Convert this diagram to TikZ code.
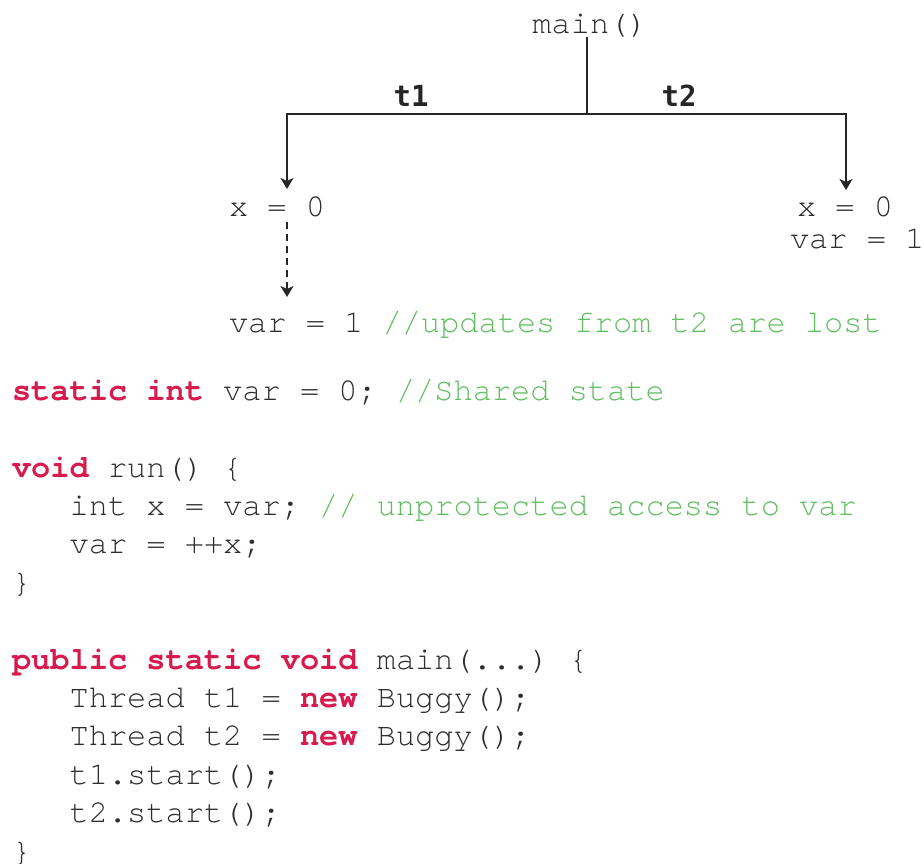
\documentclass[tikz,border=0pt]{standalone}
\usepackage{fontspec}
\setmonofont{TeX Gyre Cursor}
\newfontfamily\labelfont{DejaVu Sans Mono}
\usetikzlibrary{arrows.meta}
\definecolor{codetext}{RGB}{45,45,45}
\definecolor{keyword}{RGB}{214,28,78}
\definecolor{comment}{RGB}{96,190,96}
\newcommand{\kw}[1]{{\bfseries\color{keyword}#1}}
\newcommand{\cm}[1]{{\color{comment}#1}}
\tikzset{
  code/.style={anchor=base west, inner sep=0pt, outer sep=0pt,
    font=\ttfamily\fontsize{16}{16}\selectfont, text=codetext},
  thread/.style={anchor=base, inner sep=0pt,
    font=\labelfont\bfseries\fontsize{14.5}{14.5}\selectfont, text=black!85},
  flow/.style={line width=1.25pt, draw=black!85},
  tipped/.style={-{Stealth[length=5.5pt,width=6.5pt,inset=1.5pt]}},
  lost/.style={line width=1pt, draw=black!85, dash pattern=on 3.5pt off 2.5pt}
}
\begin{document}
\begin{tikzpicture}[x=0.5pt,y=-0.5pt]
  \useasboundingbox (0,0) rectangle (924,863);

  % thread fork
  \node[code, anchor=base] (main) at (590,33) {main()};
  \coordinate (fork) at (587,114);
  \coordinate (forkL) at (287,114);
  \coordinate (forkR) at (846,114);
  \coordinate (tipL) at (287,189);
  \coordinate (tipR) at (846,190);
  \node[thread] (t1) at (411,106) {t1};
  \node[thread] (t2) at (679,106) {t2};

  % per-thread values
  \node[code] (xL) at (229,216) {x = 0};
  \node[code] (xR) at (797,216) {x = 0};
  \node[code] (varR) at (790,248) {var = 1};
  \coordinate (dashTop) at (287,222);
  \coordinate (dashTip) at (287,297);
  \node[code] (varL) at (229,332) {var = 1 \cm{//updates from t2 are lost}};

  \draw[flow] (main.south -| fork) -- (fork);
  \draw[flow, tipped] (fork) -- (forkL) -- (tipL);
  \draw[flow, tipped] (fork) -- (forkR) -- (tipR);
  \draw[lost, tipped] (dashTop) -- (dashTip);

  % source code
  \node[code] (l1) at (12,400) {\kw{static int} var = 0; \cm{//Shared state}};
  \node[code] (l2) at (12,477) {\kw{void} run() \{};
  \node[code] (l3) at (69.6,515) {int x = var; \cm{// unprotected access to var}};
  \node[code] (l4) at (69.6,553.5) {var = ++x;};
  \node[code] (l5) at (12,592) {\}};
  \node[code] (l6) at (12,669) {\kw{public static void} main(...) \{};
  \node[code] (l7) at (69.6,707) {Thread t1 = \kw{new} Buggy();};
  \node[code] (l8) at (69.6,745.5) {Thread t2 = \kw{new} Buggy();};
  \node[code] (l9) at (69.6,784) {t1.start();};
  \node[code] (l10) at (69.6,822.5) {t2.start();};
  \node[code] (l11) at (12,861) {\}};
\end{tikzpicture}
\end{document}
